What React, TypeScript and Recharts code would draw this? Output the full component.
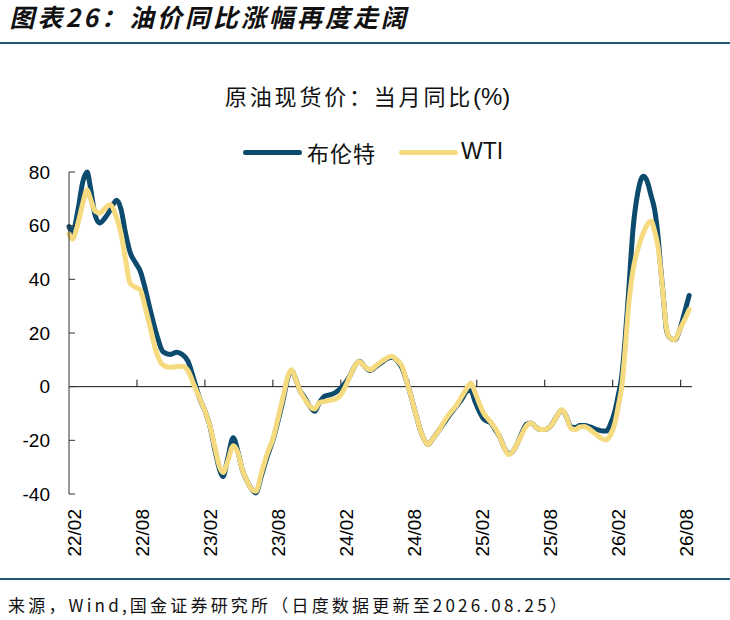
import React from 'react';
import { LineChart, Line, XAxis, YAxis, ReferenceLine } from 'recharts';

// months since 2022-02-01 (daily series sampled by eye)
const months = [
  0, 0.3, 0.8, 1.2, 1.6, 1.9, 2.3, 2.7, 3.2, 3.6,
  4.2, 4.6, 5.0, 5.4, 5.9, 6.3, 6.7, 7.15, 7.7, 8.3,
  8.9, 9.5, 10.0, 10.5, 11.0, 11.5, 12.0, 12.4, 12.9, 13.3,
  13.6, 14.0, 14.5, 14.9, 15.3, 15.7, 16.1, 16.5, 17.0, 17.5,
  18.0, 18.5, 19.0, 19.3, 19.65, 20.0, 20.4, 20.8, 21.2, 21.7,
  22.1, 22.6, 23.1, 23.6, 24.0, 24.4, 24.8, 25.2, 25.65, 26.1,
  26.6, 27.1, 27.6, 28.1, 28.5, 28.9, 29.4, 29.8, 30.2, 30.6,
  31.0, 31.4, 31.7, 32.1, 32.7, 33.2, 33.7, 34.2, 34.7, 35.2,
  35.5, 35.8, 36.2, 36.6, 37.0, 37.3, 37.7, 38.0, 38.4, 38.8,
  39.2, 39.6, 40.0, 40.4, 40.8, 41.2, 41.6, 42.0, 42.5, 43.0,
  43.5, 43.9, 44.3, 44.7, 45.1, 45.5, 46.0, 46.6, 47.1, 47.45,
  47.8, 48.2, 48.5, 48.8, 49.1, 49.4, 49.8, 50.2, 50.7, 51.0,
  51.4, 51.7, 52.0, 52.2, 52.5, 52.75, 53.1, 53.5, 53.9, 54.3,
  54.75,
];

const brent = [
  59.7, 57.5, 66, 76, 80, 74, 64, 61, 63, 65.5,
  69.5, 66, 57, 50, 46, 43, 37, 29, 20, 13,
  12, 12.8, 12, 9.5, 3, -4, -9, -14, -24, -31,
  -33.5, -27, -19, -24, -31, -35, -38, -39.6, -33, -26,
  -20, -12, -3, 3, 6, 3, -1.5, -4, -7, -9.2,
  -6, -3.5, -3, -2, -0.5, 1.5, 4, 7.5, 9.5, 7.5,
  6, 7.5, 9, 10.5, 11, 10, 7, 2, -3.6, -10,
  -16, -20, -21.6, -19.5, -16, -13, -10, -7.3, -4.5, -1.5,
  -1.5, -5, -9, -12, -13, -13.8, -16.5, -18.5, -22.5, -25,
  -24, -21, -17, -14, -13.5, -15, -16, -16, -14.8, -11.5,
  -8.8, -11, -15, -15.2, -14.5, -14.5, -15, -16, -16.5, -16.5,
  -14, -9, -3, 4, 18, 35, 59, 72, 78.4, 77,
  71, 66, 56, 46, 32, 21, 18, 17.5, 21, 27,
  34,
];

const wti = [
  57, 55, 61, 68, 73.4, 70, 65.5, 64.7, 66.5, 67.8,
  63, 57, 47, 38.5, 37, 36, 30, 22.5, 13, 8,
  7.2, 7.5, 7.6, 6, 1, -4, -9, -14, -23, -30,
  -32, -28, -22, -24.5, -31, -35, -38, -39, -32, -25,
  -19.5, -11, -2, 3.5, 6.3, 3, -1.5, -4.5, -7, -8.3,
  -6, -5.5, -5, -4.5, -3, 0, 3.8, 7.5, 9.4, 7.5,
  6.3, 7.8, 9.4, 10.8, 11.3, 10, 7.6, 2, -3.6, -10,
  -16, -20, -21.6, -19.5, -16, -12.5, -9.5, -7, -3.5, 0,
  1.4, -1.5, -6, -9.8, -12, -13.5, -16, -18.5, -22.5, -25.3,
  -24, -21, -17.5, -14.5, -13.5, -15, -16, -16, -14.8, -11.5,
  -8.6, -11, -15.5, -16, -15, -14.8, -16, -18, -19.5, -19.8,
  -18, -13.5, -7, 0, 14, 30, 43.6, 51, 57.3, 60,
  61.6, 58, 52, 45, 32, 21.5, 18, 17.5, 21, 24.5,
  28.7,
];

const xTickLabels = ['22/02', '22/08', '23/02', '23/08', '24/02', '24/08', '25/02', '25/08', '26/02', '26/08'];
const xLabelPositions = [0.5, 6.5, 12.5, 18.5, 24.5, 30.5, 36.5, 42.5, 48.5, 54.5];
const xTickMarks = [6, 12, 18, 24, 30, 36, 42, 48, 54];
const yTicks = [-40, -20, 0, 20, 40, 60, 80];

const seriesNames = ['布伦特', 'WTI'];
const BRENT_COLOR = '#0c4a6e';
const WTI_COLOR = '#f6da80';
const RULE_COLOR = '#1d5877';

const data = months.map((m, i) => ({ m, brent: brent[i], wti: wti[i] }));

const LATIN = '"Liberation Sans", Arial, sans-serif';
const CJK = '"Noto Sans CJK SC", "Noto Sans", sans-serif';

const XTick = (props: any) => {
  const { x, y, payload } = props;
  const idx = xLabelPositions.indexOf(payload.value);
  return (
    <text
      x={x}
      y={y}
      transform={`rotate(-90 ${x} ${y})`}
      textAnchor="end"
      dominantBaseline="central"
      fontSize={19}
      fontFamily={LATIN}
      fill="#000"
    >
      {xTickLabels[idx]}
    </text>
  );
};

const YTick = (props: any) => {
  const { x, y, payload } = props;
  return (
    <g>
      <line x1={x + 19} x2={x + 25} y1={y} y2={y} stroke="#333" strokeWidth={1} />
      <text x={x} y={y} textAnchor="end" dominantBaseline="central" fontSize={19} fontFamily={LATIN} fill="#000">
        {payload.value}
      </text>
    </g>
  );
};

export default function App() {
  return (
    <div style={{ position: 'absolute', left: 0, top: 0, width: 730, height: 620, background: '#fff', overflow: 'hidden' }}>
      <div style={{ position: 'absolute', left: 0, top: 0 }}>
        <LineChart width={730} height={620} data={data} margin={{ top: 172, right: 38, bottom: 76, left: 0 }}>
          <XAxis
            dataKey="m"
            type="number"
            domain={[0, 55]}
            ticks={xLabelPositions}
            interval={0}
            axisLine={false}
            tickLine={false}
            tickSize={0}
            tickMargin={15}
            height={50}
            tick={<XTick />}
          />
          <YAxis
            type="number"
            domain={[-40, 80]}
            ticks={yTicks}
            interval={0}
            width={69}
            axisLine={{ stroke: '#333', strokeWidth: 1 }}
            tickLine={false}
            tickSize={0}
            tickMargin={19}
            tick={<YTick />}
          />
          <ReferenceLine y={0} stroke="#111" strokeWidth={1} ifOverflow="extendDomain" />
          {xTickMarks.map((t) => (
            <ReferenceLine
              key={t}
              segment={[{ x: t, y: 0 }, { x: t, y: 2.6 }]}
              stroke="#111"
              strokeWidth={1}
            />
          ))}
          <Line
            type="monotone"
            dataKey="brent"
            name={seriesNames[0]}
            stroke={BRENT_COLOR}
            strokeWidth={5}
            dot={false}
            strokeLinejoin="round"
            strokeLinecap="round"
            isAnimationActive={false}
          />
          <Line
            type="monotone"
            dataKey="wti"
            name={seriesNames[1]}
            stroke={WTI_COLOR}
            strokeWidth={5}
            dot={false}
            strokeLinejoin="round"
            strokeLinecap="round"
            isAnimationActive={false}
          />
        </LineChart>
      </div>

      <div
        style={{
          position: 'absolute', left: 8, top: 0, fontSize: 25, lineHeight: '33px', fontWeight: 700,
          fontFamily: CJK, letterSpacing: 3, color: '#111', whiteSpace: 'nowrap',
          transform: 'skewX(-13deg)', transformOrigin: '0 100%',
        }}
      >
        图表26：油价同比涨幅再度走阔
      </div>
      <div style={{ position: 'absolute', left: 0, top: 42, width: 730, height: 2, background: RULE_COLOR }} />

      <div
        style={{
          position: 'absolute', left: 225, top: 80, fontSize: 22, lineHeight: '30px', fontFamily: CJK,
          letterSpacing: 2.8, color: '#111', whiteSpace: 'nowrap',
        }}
      >
        原油现货价：当月同比<span style={{ fontFamily: LATIN, fontSize: 24, letterSpacing: 0 }}>(%)</span>
      </div>

      <div style={{ position: 'absolute', left: 243, top: 149.5, width: 59, height: 5, borderRadius: 3, background: BRENT_COLOR }} />
      <div style={{ position: 'absolute', left: 307, top: 137, fontSize: 22, lineHeight: '30px', fontFamily: CJK, letterSpacing: 1, color: '#111', whiteSpace: 'nowrap' }}>
        {seriesNames[0]}
      </div>
      <div style={{ position: 'absolute', left: 399, top: 149.5, width: 59, height: 5, borderRadius: 3, background: WTI_COLOR }} />
      <div style={{ position: 'absolute', left: 461, top: 136, fontSize: 23, lineHeight: '30px', fontFamily: LATIN, color: '#111', whiteSpace: 'nowrap' }}>
        {seriesNames[1]}
      </div>

      <div style={{ position: 'absolute', left: 0, top: 578, width: 730, height: 2, background: RULE_COLOR }} />
      <div
        style={{
          position: 'absolute', left: 8, top: 592, fontSize: 17, lineHeight: '25px', fontFamily: CJK,
          letterSpacing: 3.2, color: '#111', whiteSpace: 'nowrap',
        }}
      >
        来源，Wind,国金证券研究所（日度数据更新至2026.08.25）
      </div>
    </div>
  );
}
